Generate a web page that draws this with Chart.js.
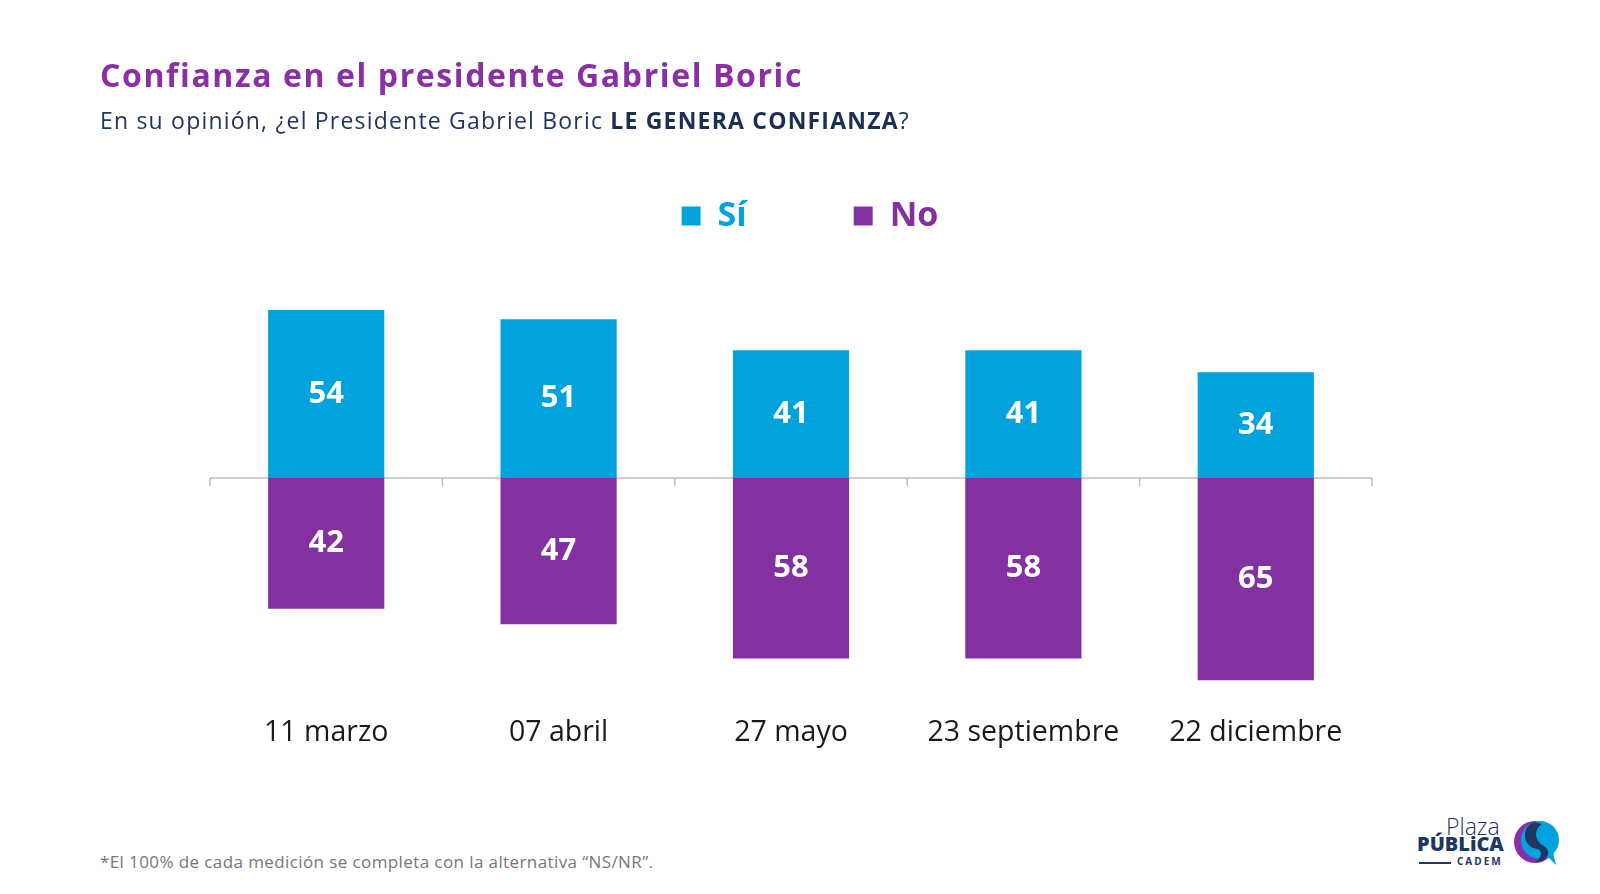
<!DOCTYPE html>
<html lang="es">
<head>
    <meta charset="UTF-8">
    <title>Confianza en el presidente Gabriel Boric</title>
    <script src="https://cdn.jsdelivr.net/npm/chart.js"></script>
    <style>
        body {
            margin: 0;
            width: 1600px;
            height: 894px;
            background: #fff;
            font-family: 'Open Sans', sans-serif;
            position: relative;
            overflow: hidden;
        }
        .title {
            position: absolute;
            left: 100px;
            top: 55px;
            font-size: 32px;
            letter-spacing: 1.6px;
            font-weight: 700;
            color: #8b2fa6;
            line-height: 40px;
            z-index: 2;
        }
        .subtitle {
            position: absolute;
            left: 100px;
            top: 105px;
            font-size: 23px;
            letter-spacing: 1.2px;
            color: #1e3760;
            line-height: 30px;
            z-index: 2;
        }
        .subtitle b { color: #1b2f55; }
        .note {
            position: absolute;
            left: 100px;
            top: 851px;
            font-size: 17px;
            letter-spacing: 0.4px;
            color: #777;
            line-height: 22px;
        }
        .chart-box {
            position: absolute;
            left: 0;
            top: 92px;
            width: 1600px;
            height: 670px;
        }
        .logo {
            position: absolute;
            left: 1416px;
            top: 816px;
            width: 150px;
            height: 54px;
            color: #1e3760;
        }
        .logo .plaza { position: absolute; left: 30px; top: -1px; font-size: 23px; font-weight: 300; line-height: 23px; }
        .logo .publica { position: absolute; left: 1px; top: 18px; font-size: 20px; font-weight: 800; line-height: 20px; }
        .logo .cadem { position: absolute; left: 41px; top: 40px; font-size: 10px; font-weight: 700; letter-spacing: 2px; line-height: 11px; }
        .logo .bar { position: absolute; left: 3px; top: 46px; width: 32px; height: 2px; background: #1e3760; }
        .logo svg { position: absolute; left: 96px; top: 3px; }
    </style>
</head>
<body>
    <div class="title">Confianza en el presidente Gabriel Boric</div>
    <div class="subtitle">En su opinión, ¿el Presidente Gabriel Boric <b>LE GENERA CONFIANZA</b>?</div>

    <div class="chart-box">
        <canvas id="trustChart"></canvas>
    </div>

    <div class="note">*El 100% de cada medición se completa con la alternativa “NS/NR”.</div>

    <div class="logo">
        <span class="plaza">Plaza</span>
        <span class="publica">PÚBLiCA</span>
        <span class="cadem">CADEM</span>
        <span class="bar"></span>
        <svg width="50" height="48" viewBox="0 0 50 48">
            <circle cx="23" cy="23" r="21" fill="#8b2fa6"/>
            <circle cx="28" cy="21" r="19" fill="#00a3de"/>
            <path d="M22 3 C9 8 10 28 25 30 C31 31 30 39 23 43 C36 43 40 32 32 27 C24 23 20 12 30 5 Z" fill="#1e3760"/>
            <path d="M36 38 L44 46 L41 33 Z" fill="#00a3de"/>
        </svg>
    </div>

    <script>
        const categories = ['11 marzo', '07 abril', '27 mayo', '23 septiembre', '22 diciembre'];
        const siValues = [54, 51, 41, 41, 34];
        const noValues = [42, 47, 58, 58, 65];

        const blue = '#02a3dc';
        const purple = '#8331a1';

        // zero line with category boundary ticks, drawn under the bars
        const zeroAxis = {
            id: 'zeroAxis',
            beforeDatasetsDraw(chart) {
                const {ctx, scales: {x, y}} = chart;
                const y0 = y.getPixelForValue(0);
                const step = x.getPixelForValue(1) - x.getPixelForValue(0);
                ctx.save();
                ctx.strokeStyle = '#bdbdbd';
                ctx.lineWidth = 1.5;
                ctx.beginPath();
                ctx.moveTo(x.left, y0);
                ctx.lineTo(x.right, y0);
                for (let i = 0; i <= categories.length; i++) {
                    const px = x.getPixelForValue(0) - step / 2 + i * step;
                    ctx.moveTo(px, y0);
                    ctx.lineTo(px, y0 + 8);
                }
                ctx.stroke();
                ctx.restore();
            }
        };

        // white numbers in the middle of every bar
        const barValues = {
            id: 'barValues',
            afterDatasetsDraw(chart) {
                const ctx = chart.ctx;
                ctx.save();
                ctx.fillStyle = '#fff';
                ctx.font = "bold 31px 'Open Sans'";
                ctx.textAlign = 'center';
                ctx.textBaseline = 'middle';
                chart.data.datasets.forEach((ds, i) => {
                    chart.getDatasetMeta(i).data.forEach((bar, j) => {
                        ctx.fillText(Math.abs(ds.data[j]), bar.x, (bar.y + bar.base) / 2);
                    });
                });
                ctx.restore();
            }
        };

        new Chart(document.getElementById('trustChart'), {
            type: 'bar',
            data: {
                labels: categories,
                datasets: [
                    {
                        label: 'Sí',
                        data: siValues,
                        backgroundColor: blue,
                        barPercentage: 0.5,
                        categoryPercentage: 1.0
                    },
                    {
                        label: 'No',
                        data: noValues.map(v => -v),
                        backgroundColor: purple,
                        barPercentage: 0.5,
                        categoryPercentage: 1.0
                    }
                ]
            },
            options: {
                responsive: true,
                maintainAspectRatio: false,
                animation: false,
                layout: {
                    padding: { left: 210, right: 190, top: 0, bottom: 0 }
                },
                scales: {
                    x: {
                        stacked: true,
                        grid: { display: false },
                        border: { display: false },
                        ticks: {
                            color: '#1a1a1a',
                            padding: 12,
                            font: { family: 'Open Sans', size: 28.5 }
                        }
                    },
                    y: {
                        stacked: true,
                        position: 'right',
                        min: -70,
                        max: 75.5,
                        grid: { display: false },
                        border: { display: false },
                        ticks: { display: false },
                        // empty strip on the right so the legend sits a bit right of centre
                        afterFit(scale) { scale.width = 38; }
                    }
                },
                plugins: {
                    tooltip: { enabled: false },
                    legend: {
                        position: 'top',
                        labels: {
                            boxWidth: 19,
                            boxHeight: 19,
                            padding: 107,
                            font: { family: 'Open Sans', size: 34, weight: 'bold' },
                            generateLabels() {
                                return [
                                    { text: 'Sí', fillStyle: blue, strokeStyle: blue, lineWidth: 0, fontColor: blue, datasetIndex: 0 },
                                    { text: 'No', fillStyle: purple, strokeStyle: purple, lineWidth: 0, fontColor: purple, datasetIndex: 1 }
                                ];
                            }
                        }
                    }
                }
            },
            plugins: [zeroAxis, barValues]
        });
    </script>
</body>
</html>
